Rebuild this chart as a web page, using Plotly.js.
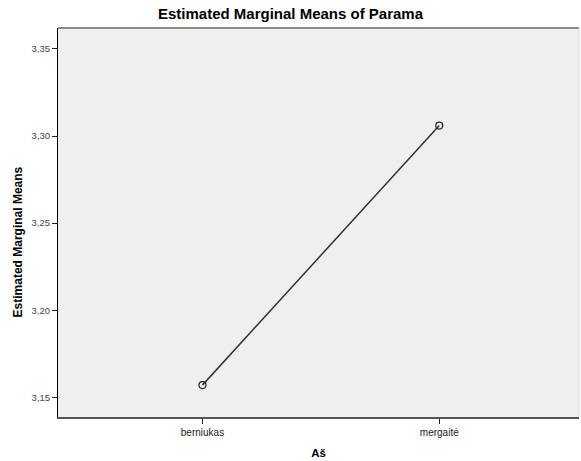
<!DOCTYPE html>
<html>
<head>
<meta charset="utf-8">
<script src="https://cdn.plot.ly/plotly-3.0.1.min.js"></script>
<style>html,body{margin:0;padding:0;background:#fff;}#chart{width:581px;height:461px;}</style>
</head>
<body>
<div id="chart"></div>
<script>
var categories = ["berniukas", "mergaitė"];
var means = [3.157, 3.306];
var yTicks = [3.15, 3.20, 3.25, 3.30, 3.35];

var trace = {
  x: categories,
  y: means,
  type: "scatter",
  mode: "lines+markers",
  line: {color: "#333333", width: 1.5},
  marker: {symbol: "circle-open", size: 7, color: "#222222", line: {width: 1.2, color: "#222222"}},
  hoverinfo: "none"
};

var layout = {
  width: 581, height: 461,
  margin: {l: 58, r: 2, t: 28, b: 44},
  paper_bgcolor: "#ffffff",
  plot_bgcolor: "#efefef",
  separators: ",.",
  showlegend: false,
  font: {family: "Liberation Sans, Arial, sans-serif", color: "#000"},
  title: {text: "<b>Estimated Marginal Means of Parama</b>", font: {size: 15, color: "#000"}, x: 0.5, xanchor: "center", y: 0.970, yanchor: "middle"},
  xaxis: {
    type: "category",
    range: [-0.61, 1.59],
    showgrid: false, zeroline: false,
    showline: true, linecolor: "#555555", linewidth: 2,
    ticks: "outside", ticklen: 5, tickcolor: "#222", tickwidth: 1,
    tickfont: {size: 10, color: "#222"},
    title: {text: "<b>Aš</b>", font: {size: 11.5, color: "#000"}, standoff: 12}
  },
  yaxis: {
    range: [3.1387, 3.362],
    tickvals: yTicks,
    tickformat: ".2f",
    showgrid: false, zeroline: false,
    showline: true, linecolor: "#000000", linewidth: 1,
    ticks: "outside", ticklen: 5, tickcolor: "#222", tickwidth: 1,
    tickfont: {size: 9.5, color: "#444"}
  },
  annotations: [
    {text: "<b>Estimated Marginal Means</b>", textangle: -90, showarrow: false,
     xref: "paper", yref: "paper", x: -0.0777, y: 0.45, xanchor: "center", yanchor: "middle",
     font: {size: 12, color: "#000"}}
  ],
  shapes: [
    {type: "line", xref: "paper", yref: "paper", x0: 0, x1: 1, y0: 1, y1: 1, line: {color: "#8a8a8a", width: 2}},
    {type: "line", xref: "paper", yref: "paper", x0: 1, x1: 1, y0: 0, y1: 1, line: {color: "#d8d8d8", width: 1}}
  ]
};

Plotly.newPlot("chart", [trace], layout, {staticPlot: true, displayModeBar: false});
</script>
</body>
</html>
